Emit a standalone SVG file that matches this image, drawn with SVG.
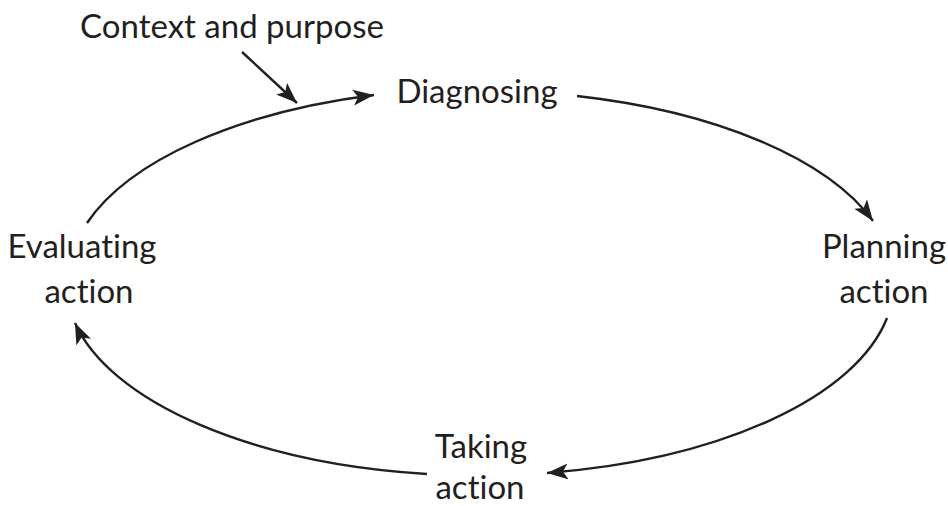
<svg xmlns="http://www.w3.org/2000/svg" width="948" height="506" viewBox="0 0 948 506">
<style>
.t{font-family:Lato,"Open Sans","Liberation Sans",sans-serif;font-size:33px;fill:#231f20;text-anchor:middle;font-variant-ligatures:none}
.c{fill:none;stroke:#231f20;stroke-width:2.4}
</style>
<defs>
<marker id="ah" markerUnits="userSpaceOnUse" markerWidth="24" markerHeight="18" refX="21" refY="8" orient="auto">
<path d="M0,0 L21,8 L0,16 L5,8 z" fill="#231f20"/>
</marker>
</defs>
<rect width="948" height="506" fill="#fff"/>
<g id="context"><text class="t" x="232" y="38">Context and purpose</text></g>
<g id="diagnosing"><text class="t" x="477" y="103">Diagnosing</text></g>
<g id="planning"><text class="t" x="884" y="258">Planning</text><text class="t" x="884" y="303">action</text></g>
<g id="taking"><text class="t" x="481" y="458">Taking</text><text class="t" x="480" y="499">action</text></g>
<g id="evaluating"><text class="t" x="82" y="258">Evaluating</text><text class="t" x="89" y="303">action</text></g>
<g id="connectors">
<path class="c" d="M242,52 L297,103" marker-end="url(#ah)"/>
<path class="c" d="M87,223 A415,192 0 0 1 374,95" marker-end="url(#ah)"/>
<path class="c" d="M577,96 A415,192 0 0 1 873,221" marker-end="url(#ah)"/>
<path class="c" d="M887,318 A415,192 0 0 1 547,473" marker-end="url(#ah)"/>
<path class="c" d="M427,474 A415,192 0 0 1 75,323" marker-end="url(#ah)"/>
</g>
</svg>
